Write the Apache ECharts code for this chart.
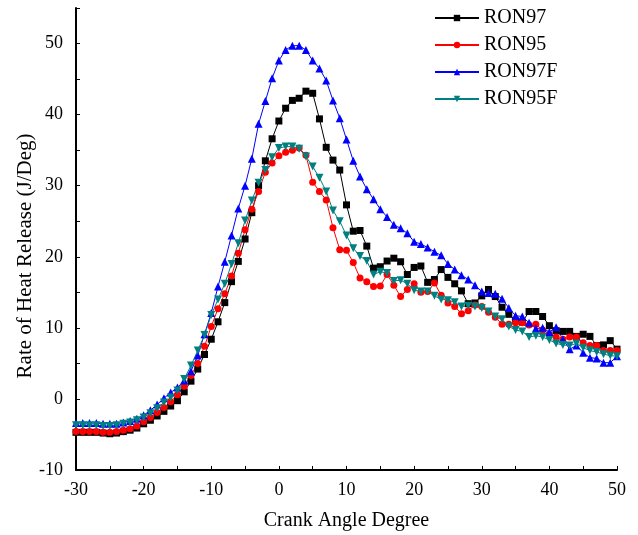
<!DOCTYPE html>
<html>
<head>
<meta charset="utf-8">
<script src="https://cdn.jsdelivr.net/npm/echarts@6/dist/echarts.min.js"></script>
<style>
  html, body { margin: 0; padding: 0; background: #fff; }
  #main { width: 638px; height: 535px; }
</style>
</head>
<body>
<div id="main"></div>
<script>
// crank angle, degrees
var angles = [-30,-29,-28,-27,-26,-25,-24,-23,-22,-21,-20,-19,-18,-17,-16,-15,-14,-13,-12,-11,
  -10,-9,-8,-7,-6,-5,-4,-3,-2,-1,0,1,2,3,4,5,6,7,8,9,
  10,11,12,13,14,15,16,17,18,19,20,21,22,23,24,25,26,27,28,29,
  30,31,32,33,34,35,36,37,38,39,40,41,42,43,44,45,46,47,48,49,50];

var ron97 = [-4.7,-4.7,-4.7,-4.7,-4.8,-4.9,-4.8,-4.6,-4.4,-4.1,
  -3.5,-3.0,-2.4,-1.75,-1.0,-0.25,1.0,2.5,4.2,6.25,
  8.4,10.85,13.55,16.5,19.35,22.5,26.2,30.0,33.5,36.6,
  39.1,40.9,42.0,42.3,43.3,43.0,39.4,35.4,33.6,32.2,
  27.3,23.6,23.7,21.5,18.4,18.6,19.4,19.8,19.3,17.5,
  18.5,18.7,16.4,16.8,18.2,17.1,16.2,15.2,13.4,13.5,
  14.5,15.4,14.4,12.9,11.9,11.0,10.8,12.3,12.3,11.6,
  10.3,9.6,9.5,9.5,8.8,9.1,8.8,7.5,7.6,8.2,7.0];

var ron95 = [-4.6,-4.6,-4.6,-4.6,-4.7,-4.7,-4.6,-4.4,-4.2,-3.8,
  -3.2,-2.6,-1.9,-1.2,-0.4,0.6,1.8,3.3,5.0,7.4,
  10.2,12.7,14.8,17.3,20.5,23.8,26.7,29.2,31.9,33.2,
  34.2,34.7,35.0,35.3,34.3,30.5,29.2,28.0,24.1,21.0,
  20.9,19.2,17.0,16.5,15.8,15.9,17.5,16.0,14.4,15.4,
  16.2,15.0,15.1,16.3,14.6,13.5,13.0,12.0,12.4,13.2,
  13.0,12.2,11.5,10.5,10.5,10.7,10.7,10.4,10.5,9.7,
  9.1,8.7,8.4,8.7,8.7,7.9,7.5,7.5,6.8,6.8,6.8];

var ron97f = [-3.4,-3.4,-3.4,-3.4,-3.5,-3.5,-3.5,-3.3,-3.1,-2.8,
  -2.3,-1.6,-0.8,0.1,0.9,1.6,2.6,3.9,6.1,9.1,
  12.1,15.8,19.3,23.0,26.8,30.0,33.8,38.7,41.9,45.1,
  47.6,49.1,49.7,49.7,49.1,47.6,46.5,44.8,42.0,39.5,
  36.5,33.5,31.3,29.5,28.1,26.7,25.6,24.5,24.0,23.3,
  22.1,21.8,21.3,20.7,20.2,19.0,18.2,17.4,16.8,16.0,
  15.1,14.9,14.8,14.1,12.8,11.7,11.6,10.7,9.9,10.0,
  9.4,10.1,8.4,7.0,7.5,6.5,5.8,5.7,5.1,5.1,6.0];

var ron95f = [-3.7,-3.7,-3.7,-3.7,-3.8,-3.8,-3.7,-3.5,-3.3,-3.0,
  -2.6,-2.0,-1.3,-0.5,0.2,1.2,2.8,4.7,6.8,9.0,
  11.8,14.0,16.2,19.0,21.9,25.1,27.9,30.4,32.2,34.0,
  35.3,35.5,35.5,35.2,34.1,32.7,31.1,29.2,26.5,25.0,
  23.0,21.2,20.1,19.4,17.5,17.9,17.7,16.6,16.7,16.2,
  15.3,15.1,15.1,14.5,14.0,13.9,13.6,13.0,13.1,13.0,
  12.8,12.3,11.6,11.2,10.2,9.7,9.5,8.7,8.9,8.7,
  8.3,7.8,7.6,7.5,7.8,7.2,6.8,6.6,6.3,6.1,6.0];

var fontFam = '"Liberation Serif", "Times New Roman", serif';

function pairs(ys) {
  return angles.map(function (a, i) { return [a, ys[i]]; });
}

function mkSeries(name, ys, color, symbol, size, rotate) {
  return {
    name: name,
    type: 'line',
    data: pairs(ys),
    symbol: symbol,
    symbolSize: size,
    symbolRotate: rotate || 0,
    showAllSymbol: true,
    lineStyle: { color: color, width: 1 },
    itemStyle: { color: color },
    emphasis: { disabled: true },
    animation: false
  };
}

var myChart = echarts.init(document.getElementById('main'));
var option = {
  backgroundColor: '#fff',
  animation: false,
  grid: { left: 76, right: 21, top: 8, bottom: 65, containLabel: false, outerBoundsMode: 'none' },
  legend: {
    orient: 'vertical',
    left: 429,
    top: 3,
    itemWidth: 44,
    itemHeight: 8,
    itemGap: 7,
    textStyle: { fontFamily: fontFam, fontSize: 20, color: '#000' },
    data: ['RON97', 'RON95', 'RON97F', 'RON95F']
  },
  xAxis: {
    type: 'value',
    min: -30,
    max: 50,
    interval: 5,
    name: 'Crank Angle Degree',
    nameLocation: 'middle',
    nameGap: 41,
    nameTextStyle: { fontFamily: fontFam, fontSize: 20, color: '#000' },
    axisLine: { onZero: false, lineStyle: { color: '#000', width: 2 } },
    axisTick: { inside: true, length: 4, lineStyle: { color: '#000' } },
    axisLabel: {
      margin: 11,
      fontFamily: fontFam, fontSize: 18, color: '#000',
      formatter: function (v) { return v % 10 === 0 ? String(v) : ''; }
    },
    splitLine: { show: false }
  },
  yAxis: {
    type: 'value',
    min: -10,
    max: 55,
    interval: 5,
    axisLine: { show: true, onZero: false, lineStyle: { color: '#000', width: 2 } },
    axisTick: { show: true, inside: true, length: 4, lineStyle: { color: '#000' } },
    axisLabel: {
      margin: 13,
      fontFamily: fontFam, fontSize: 18, color: '#000',
      formatter: function (v) { return v % 10 === 0 ? String(v) : ''; }
    },
    splitLine: { show: false }
  },
  graphic: [{
    type: 'text',
    x: 25,
    y: 256,
    rotation: Math.PI / 2,
    style: {
      text: 'Rate of Heat Release (J/Deg)',
      fontFamily: fontFam,
      fontSize: 21,
      fill: '#000',
      align: 'center',
      verticalAlign: 'middle'
    }
  }],
  series: [
    mkSeries('RON97', ron97, '#000000', 'rect', 7),
    mkSeries('RON95', ron95, '#ff0000', 'circle', 7),
    mkSeries('RON97F', ron97f, '#0000ff', 'triangle', 8),
    mkSeries('RON95F', ron95f, '#008080', 'triangle', 8, 180)
  ]
};
myChart.setOption(option);
window.onresize = myChart.resize;
</script>
</body>
</html>
